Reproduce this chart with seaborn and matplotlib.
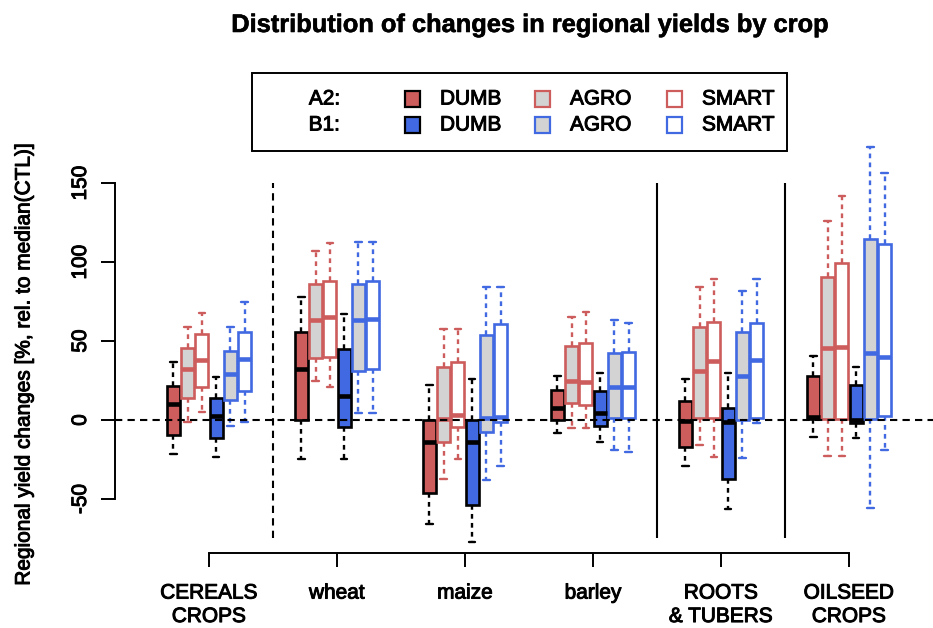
import numpy as np
import pandas as pd
import matplotlib
matplotlib.use("Agg")
import matplotlib.pyplot as plt
from matplotlib.patches import Rectangle
import matplotlib.patheffects as pe
import seaborn as sns

# ---------------- data ----------------
groups = ["CEREALS\nCROPS", "wheat", "maize", "barley", "ROOTS\n& TUBERS", "OILSEED\nCROPS"]
series_names = ["A2 DUMB", "A2 AGRO", "A2 SMART", "B1 DUMB", "B1 AGRO", "B1 SMART"]
yticks = [-50, 0, 50, 100, 150]

# five-number summaries per crop group: [whisker low, Q1, median, Q3, whisker high]
a2_dumb = [[-21.7, -9.5, 9.9, 21.7, 36.9], [-24.9, 0.0, 32.0, 55.9, 77.6],
           [-65.8, -46.0, -13.9, 0.0, 22.0], [-8.4, 0.0, 7.4, 19.0, 27.8],
           [-29.1, -16.9, -0.4, 12.0, 26.1], [-10.5, 0.4, 2.1, 27.8, 40.5]]
a2_agro = [[-1.0, 13.7, 32.0, 45.8, 59.0], [24.9, 39.5, 63.3, 86.0, 107.0],
           [-37.1, -13.9, 0.5, 33.4, 57.4], [-5.3, 11.0, 24.7, 46.8, 65.4],
           [-15.8, 1.0, 31.0, 58.7, 84.0], [-22.8, 0.4, 45.4, 90.7, 126.2]]
a2_smart = [[5.3, 21.1, 38.0, 54.2, 67.9], [21.1, 40.0, 65.0, 88.0, 111.8],
            [-24.5, -4.2, 3.2, 36.9, 57.4], [-5.3, 9.5, 24.3, 48.5, 68.4],
            [-23.2, 1.0, 37.1, 62.0, 89.0], [-22.8, 0.4, 46.0, 99.6, 141.8]]
b1_dumb = [[-23.6, -11.6, 2.7, 13.7, 27.0], [-24.9, -4.2, 15.4, 44.7, 66.9],
           [-77.0, -53.8, -13.9, 0.0, 25.7], [-13.7, -3.8, 4.2, 18.6, 30.0],
           [-56.5, -37.1, -1.0, 7.8, 30.0], [-11.6, -1.7, 0.0, 22.2, 33.4]]
b1_agro = [[-3.8, 12.7, 29.1, 43.7, 59.0], [4.2, 31.0, 63.3, 85.9, 112.9],
           [-38.0, -7.8, 1.0, 53.8, 84.0], [-19.0, 1.5, 21.1, 42.2, 63.3],
           [-24.3, 0.0, 28.1, 55.9, 81.9], [-55.9, 0.4, 42.2, 114.8, 172.6]]
b1_smart = [[-1.0, 18.6, 38.4, 55.5, 74.9], [4.2, 32.0, 63.7, 88.0, 112.9],
            [-28.9, -1.0, 2.1, 60.8, 84.0], [-20.0, 1.5, 20.7, 42.8, 61.2],
            [-1.7, 1.0, 38.0, 61.2, 89.0], [-19.0, 2.5, 40.1, 111.2, 156.1]]

all_series = [a2_dumb, a2_agro, a2_smart, b1_dumb, b1_agro, b1_smart]

# ---------------- styles ----------------
RED = "#CD5C5C"
BLUE = "#4169E1"
GREY = "#D3D3D3"
fills = [RED, GREY, "white", BLUE, GREY, "white"]
edges = ["black", RED, RED, "black", BLUE, BLUE]
slot = 0.111
offsets = [(i - 2.5) * slot for i in range(6)]

sns.set_style("ticks")
plt.rcParams["font.family"] = ["Liberation Sans", "DejaVu Sans"]
plt.rcParams["font.size"] = 15
plt.rcParams["text.color"] = "black"

heavy = [pe.withStroke(linewidth=0.7, foreground="black")]

W, H = 933, 628
fig = plt.figure(figsize=(W / 100, H / 100), dpi=100)
ax_left, ax_right, ax_top, ax_bot = 115, 933, 131.5, 553
ax = fig.add_axes([ax_left / W, 1 - ax_bot / H, (ax_right - ax_left) / W, (ax_bot - ax_top) / H])

for vals, fc, ec, off in zip(all_series, fills, edges, offsets):
    xs, ys = [], []
    for g, five in enumerate(vals):
        for v in five:
            xs.append(g + off)
            ys.append(v)
    df = pd.DataFrame({"pos": xs, "value": ys})
    sns.boxplot(data=df, x="pos", y="value", native_scale=True, width=0.1,
                whis=(0, 100), color=fc, linecolor=ec, linewidth=1.9,
                saturation=1, fliersize=0, ax=ax,
                medianprops=dict(linewidth=3.3, color=ec),
                whiskerprops=dict(linestyle=(0, (2.0, 1.8)), linewidth=1.7, color=ec),
                capprops=dict(linewidth=1.7, color=ec),
                boxprops=dict(edgecolor=ec, facecolor=fc, linewidth=1.9))

# zero line and separators
ax.axhline(0, color="black", linestyle=(0, (3.5, 2.5)), linewidth=1.5, zorder=10)
ax.vlines([0.5], -75, 150, colors="black", linestyles=[(0, (3.5, 2.5))], linewidth=1.5)
ax.vlines([3.5, 4.5], -75, 150, colors="black", linewidth=1.5)

ax.set_xlim(-94 / 128, (933 - 209) / 128)
ax.set_ylim(-84.2, 182.6)
ax.set_xlabel("")
ax.set_ylabel("")

ax.set_xticks(range(len(groups)))
ax.set_xticklabels(groups, linespacing=1.3)
ax.set_yticks(yticks)
ax.set_yticklabels([str(t) for t in yticks], rotation=90, va="center")
ax.tick_params(axis="both", length=10, width=1.4, color="black", labelsize=15, labelcolor="black")
ax.tick_params(axis="x", pad=12)
ax.tick_params(axis="y", pad=8)
for lab in ax.get_xticklabels() + ax.get_yticklabels():
    lab.set_path_effects(heavy)

sns.despine(ax=ax)
for s in ["left", "bottom"]:
    ax.spines[s].set_linewidth(1.4)
    ax.spines[s].set_color("black")
ax.spines["left"].set_bounds(-50, 150)
ax.spines["bottom"].set_bounds(0, len(groups) - 1)

# title and y label
fig.text(529 / W, 1 - 25 / H, "Distribution of changes in regional yields by crop",
         ha="center", va="center", fontsize=18.3, fontweight="bold",
         path_effects=[pe.withStroke(linewidth=0.4, foreground="black")])
fig.text(24 / W, 1 - 364 / H, "Regional yield changes [%, rel. to median(CTL)]",
         ha="center", va="center", rotation=90, fontsize=15, path_effects=heavy)

# legend (manual, in figure pixels)
def fx(px):
    return px / W

def fy(py):
    return 1 - py / H

fig.patches.append(Rectangle((fx(252), fy(151)), fx(787) - fx(252), fy(73) - fy(151),
                             transform=fig.transFigure, fill=False, edgecolor="black",
                             linewidth=1.4))
row_y = [99, 125]
row_labels = ["A2:", "B1:"]
leg_names = ["DUMB", "AGRO", "SMART"]
sq_x = [412, 542, 674]
txt_x = [440, 570, 702]
for r, (yy, lab) in enumerate(zip(row_y, row_labels)):
    fig.text(fx(340), fy(yy), lab, ha="right", va="center", fontsize=15, path_effects=heavy)
    for c in range(3):
        idx = r * 3 + c
        s = 15
        fig.patches.append(Rectangle((fx(sq_x[c] - s / 2), fy(yy + s / 2)), s / W, s / H,
                                     transform=fig.transFigure, facecolor=fills[idx],
                                     edgecolor=edges[idx], linewidth=1.6))
        fig.text(fx(txt_x[c]), fy(yy), leg_names[c], ha="left", va="center", fontsize=15,
                 path_effects=heavy)

fig.savefig("out.png", dpi=100)
